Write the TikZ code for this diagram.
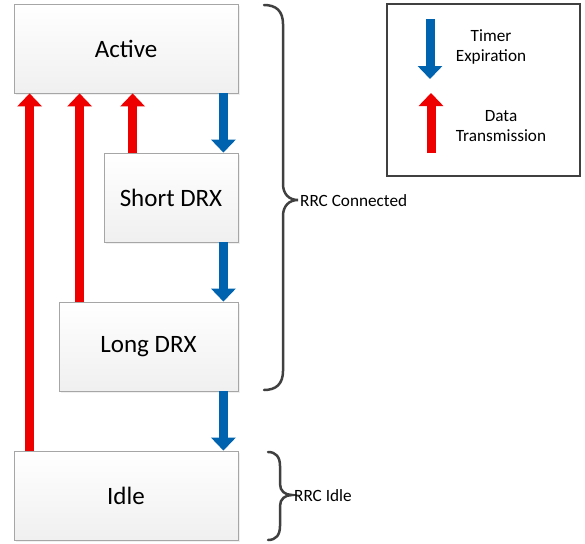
\documentclass[tikz,border=0pt]{standalone}
\usepackage{fontspec}
\setmainfont{Carlito}
\usepackage{tikz}
\usetikzlibrary{arrows.meta,calc,positioning,shadows}
\definecolor{timerBlue}{HTML}{0063B0}
\definecolor{dataRed}{HTML}{EE0000}
\definecolor{boxEdge}{HTML}{A6A6A6}
\definecolor{braceGray}{HTML}{404040}

\tikzset{
  state/.style={draw=boxEdge,line width=0.8pt,top color=white,bottom color=gray!12,
    minimum width=224pt,minimum height=89pt,inner sep=0pt,
    font=\fontsize{25}{29}\selectfont,
    drop shadow={opacity=0.12,shadow xshift=2pt,shadow yshift=-2pt}},
  timer/.style={timerBlue,line width=9pt,-{Triangle[width=24pt,length=13pt]}},
  data/.style={dataRed,line width=9pt,-{Triangle[width=24pt,length=13pt]}},
  brace/.style={braceGray,line width=2.5pt,line cap=round},
  smalltext/.style={font=\fontsize{17.2}{20}\selectfont,inner sep=1pt}
}

\begin{document}
\begin{tikzpicture}[x=1pt,y=-1pt]
\useasboundingbox (0,0) rectangle (585,543);
% states
\node[state] (active) at (126,48.5) {Active};
\node[state,minimum width=134pt] (short) at (171,197.5) {Short DRX};
\node[state,minimum width=179pt] (long) at (148.5,346.5) {Long DRX};
\node[state] (idle) at (126,495.5) {Idle};
% timer expiration
\draw[timer] ([xshift=-15pt]active.south east) -- ([xshift=-15pt]short.north east);
\draw[timer] ([xshift=-15pt]short.south east) -- ([xshift=-15pt]long.north east);
\draw[timer] ([xshift=-15pt]long.south east) -- ([xshift=-15pt]idle.north east);
% data transmission
\draw[data] ([xshift=29pt]short.north west) coordinate (d1) -- (d1 |- active.south);
\draw[data] ([xshift=21pt]long.north west) coordinate (d2) -- (d2 |- active.south);
\draw[data] ([xshift=16pt]idle.north west) coordinate (d3) -- (d3 |- active.south);
% braces
\draw[brace] (264,5) .. controls (276,5) and (283,11) .. (283,24) -- (283,184)
  .. controls (283,194) and (289,200) .. (298,200)
  .. controls (289,200) and (283,206) .. (283,216) -- (283,371)
  .. controls (283,384) and (276,390) .. (264,390);
\node[smalltext,anchor=west] (connLbl) at (299,201) {RRC Connected};
\draw[brace] (268,452) .. controls (276,452) and (280,457) .. (280,466) -- (280,484)
  .. controls (280,491) and (285,495) .. (292,495)
  .. controls (285,495) and (280,499) .. (280,506) -- (280,526)
  .. controls (280,535) and (276,540) .. (268,540);
\node[smalltext,anchor=west] (idleLbl) at (293,496) {RRC Idle};
% legend
\node[draw=braceGray,line width=1.3pt,minimum width=193pt,minimum height=172pt] (legend) at (483.5,90) {};
\coordinate (tTop) at (430,19);
\coordinate (tEnd) at (430,79);
\draw[timer] (tTop) -- (tEnd);
\coordinate (dBot) at (431,153);
\coordinate (dEnd) at (431,93);
\draw[data] (dBot) -- (dEnd);
\node[smalltext,align=center] (timerLbl) at (491,47) {Timer\\Expiration};
\node[smalltext,align=center] (dataLbl) at (501,126) {Data\\Transmission};
\end{tikzpicture}
\end{document}
